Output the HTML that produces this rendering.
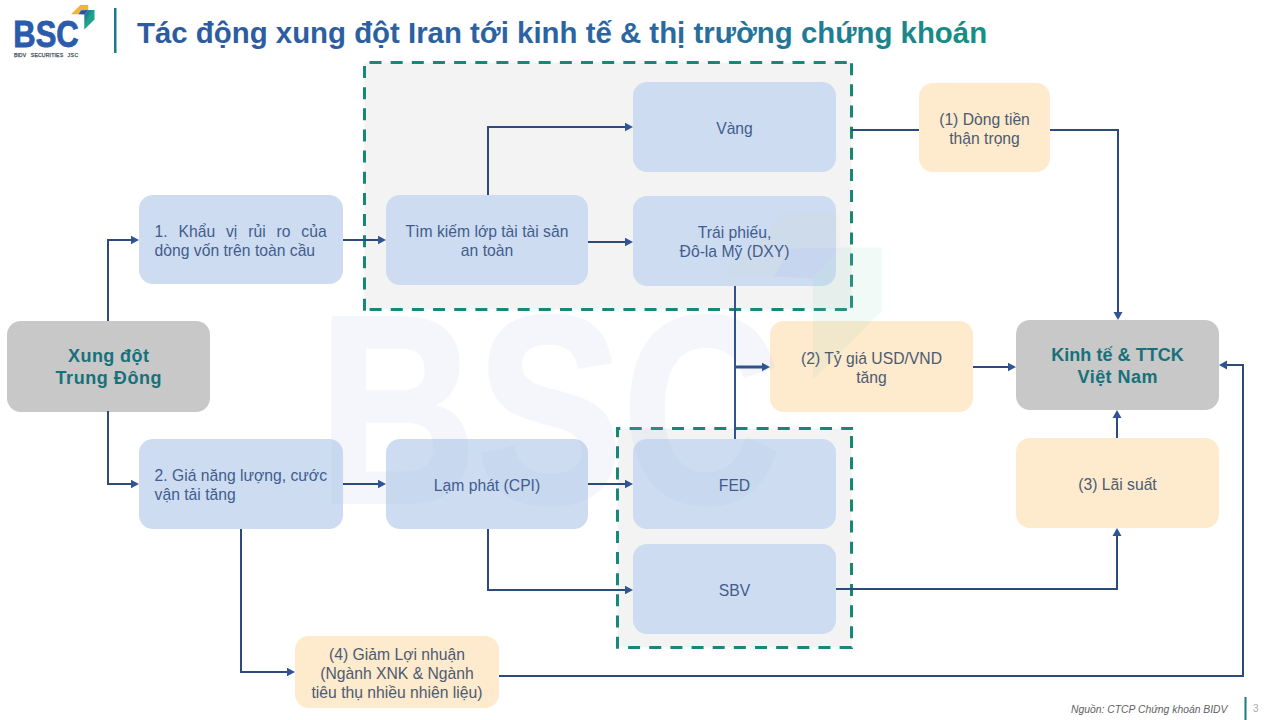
<!DOCTYPE html>
<html><head><meta charset="utf-8"><style>
html,body{margin:0;padding:0;background:#fff;}
body{width:1280px;height:720px;overflow:hidden;position:relative;font-family:"Liberation Sans",sans-serif;}
svg{position:absolute;left:0;top:0;}
</style></head><body>
<svg width="1280" height="720" viewBox="0 0 1280 720" font-family="Liberation Sans, sans-serif">
<defs>
<linearGradient id="tg" x1="137" y1="0" x2="985" y2="0" gradientUnits="userSpaceOnUse">
<stop offset="0" stop-color="#2d5aa0"/><stop offset="0.6" stop-color="#2b66a0"/><stop offset="0.8" stop-color="#227a94"/><stop offset="1" stop-color="#169080"/>
</linearGradient>
<linearGradient id="lg" x1="0" y1="0" x2="1" y2="1">
<stop offset="0" stop-color="#2c4f9e"/><stop offset="0.45" stop-color="#1ca487"/><stop offset="1" stop-color="#1aa88a"/>
</linearGradient>
</defs>
<!-- logo -->
<text x="13.3" y="47.2" font-size="37.4" font-weight="bold" fill="#2b5bab" stroke="#2b5bab" stroke-width="0.9" textLength="65.4" lengthAdjust="spacingAndGlyphs">BSC</text>
<g font-size="5.2" fill="#46505c" stroke="#46505c" stroke-width="0.25"><text x="13.9" y="56.8" textLength="12.2" lengthAdjust="spacing">BIDV</text><text x="30.8" y="56.8" textLength="32.3" lengthAdjust="spacing">SECURITIES</text><text x="67.4" y="56.8" textLength="10.8" lengthAdjust="spacing">JSC</text></g>
<polygon points="71,14.3 80.4,4.9 88.2,4.9 88.2,9.9 81,10.2 78.5,14.3" fill="#f2b53a"/>
<polygon points="78.5,14.3 81,10.2 88.7,10 84.3,14.6" fill="#2c4fa0"/>
<polygon points="84.3,14.6 88.7,10 94.5,10 94.5,19.4 84.3,29.6" fill="url(#lg)"/>
<rect x="114" y="8" width="2.5" height="45" fill="#1b7a84"/>
<text x="137" y="43" font-size="29.4" font-weight="bold" fill="url(#tg)">Tác động xung đột Iran tới kinh tế &amp; thị trường chứng khoán</text>
<rect x="364.5" y="62.5" width="487" height="247" fill="#f3f3f3"/><rect x="617.5" y="428.5" width="234" height="219" fill="#f3f3f3"/><path d="M369.5,62.5 L853,62.5" stroke="#17877a" stroke-width="3" stroke-dasharray="12 9.15" fill="none"/><path d="M369.6,309.5 L853,309.5" stroke="#17877a" stroke-width="3" stroke-dasharray="12 9.15" fill="none"/><path d="M364.5,66 L364.5,311" stroke="#17877a" stroke-width="3" stroke-dasharray="12 9.15" fill="none"/><path d="M851.5,63.2 L851.5,311" stroke="#17877a" stroke-width="3" stroke-dasharray="12 9.15" fill="none"/><path d="M629.7,428.5 L853,428.5" stroke="#17877a" stroke-width="3" stroke-dasharray="12 9.15" fill="none"/><path d="M628.1,647.5 L853,647.5" stroke="#17877a" stroke-width="3" stroke-dasharray="12 9.15" fill="none"/><path d="M617.5,427 L617.5,437.2" stroke="#17877a" stroke-width="3" fill="none"/><path d="M616,428.5 L620.3,428.5" stroke="#17877a" stroke-width="3" fill="none"/><path d="M617.5,446.3 L617.5,649" stroke="#17877a" stroke-width="3" stroke-dasharray="12 9.15" fill="none"/><path d="M851.5,436 L851.5,649" stroke="#17877a" stroke-width="3" stroke-dasharray="12 9.15" fill="none"/><rect x="7" y="321" width="203" height="91" rx="14" ry="14" fill="#c8c8c8"/><rect x="139" y="195" width="204" height="89" rx="14" ry="14" fill="#cddcf1"/><rect x="139" y="439" width="204" height="90" rx="14" ry="14" fill="#cddcf1"/><rect x="386" y="195" width="202" height="90" rx="14" ry="14" fill="#cddcf1"/><rect x="633" y="82" width="203" height="90" rx="14" ry="14" fill="#cddcf1"/><rect x="633" y="196" width="203" height="90" rx="14" ry="14" fill="#cddcf1"/><rect x="386" y="439" width="202" height="90" rx="14" ry="14" fill="#cddcf1"/><rect x="633" y="439" width="203" height="90" rx="14" ry="14" fill="#cddcf1"/><rect x="633" y="544" width="203" height="90" rx="14" ry="14" fill="#cddcf1"/><rect x="919" y="83" width="131" height="89" rx="14" ry="14" fill="#feeacc"/><rect x="770" y="321" width="203" height="91" rx="14" ry="14" fill="#feeacc"/><rect x="1016" y="320" width="203" height="90" rx="14" ry="14" fill="#c8c8c8"/><rect x="1016" y="438" width="203" height="90" rx="14" ry="14" fill="#feeacc"/><rect x="295" y="636" width="204" height="72" rx="14" ry="14" fill="#feeacc"/><g>
<g opacity="0.12"><text x="318.5" y="502" font-size="267" font-weight="bold" fill="rgb(170,190,230)" stroke="rgb(170,190,230)" stroke-width="4" stroke-linejoin="round" textLength="462" lengthAdjust="spacingAndGlyphs">BSC</text></g>
<polygon points="723.1,276.5 786.6,213.1 839.2,213.1 839.2,246.8 790.6,248.8 773.8,276.5" fill="rgb(230,210,160)" fill-opacity="0.07"/>
<polygon points="773.8,276.5 790.6,248.8 842.6,247.5 812.9,278.6" fill="rgb(150,170,220)" fill-opacity="0.1"/>
<polygon points="812.9,278.6 842.6,247.5 881.8,247.5 881.8,310.9 812.9,379.8" fill="rgb(150,210,190)" fill-opacity="0.12"/>
</g><path d="M108,321 L108,240 L133,240" fill="none" stroke="#2c4b78" stroke-width="2"/><polygon points="139,240 131,235.7 131,244.3" fill="#2f5597"/><path d="M108,411 L108,484 L133,484" fill="none" stroke="#2c4b78" stroke-width="2"/><polygon points="139,484 131,479.7 131,488.3" fill="#2f5597"/><path d="M343,240 L380,240" fill="none" stroke="#2c4b78" stroke-width="2"/><polygon points="386,240 378,235.7 378,244.3" fill="#2f5597"/><path d="M488,195 L488,127 L627,127" fill="none" stroke="#2c4b78" stroke-width="2"/><polygon points="633,127 625,122.7 625,131.3" fill="#2f5597"/><path d="M588,242 L627,242" fill="none" stroke="#2c4b78" stroke-width="2"/><polygon points="633,242 625,237.7 625,246.3" fill="#2f5597"/><path d="M851,130 L919,130" fill="none" stroke="#2c4b78" stroke-width="2"/><path d="M1050,130 L1118,130 L1118,314" fill="none" stroke="#2c4b78" stroke-width="2"/><polygon points="1118,320 1113.5,312 1122.5,312" fill="#2f5597"/><path d="M973,367 L1010,367" fill="none" stroke="#2c4b78" stroke-width="2"/><polygon points="1016,367 1008,362.7 1008,371.3" fill="#2f5597"/><path d="M343,484 L380,484" fill="none" stroke="#2c4b78" stroke-width="2"/><polygon points="386,484 378,479.7 378,488.3" fill="#2f5597"/><path d="M588,484 L627,484" fill="none" stroke="#2c4b78" stroke-width="2"/><polygon points="633,484 625,479.7 625,488.3" fill="#2f5597"/><path d="M488,529 L488,590 L627,590" fill="none" stroke="#2c4b78" stroke-width="2"/><polygon points="633,590 625,585.7 625,594.3" fill="#2f5597"/><path d="M241,529 L241,672 L289,672" fill="none" stroke="#2c4b78" stroke-width="2"/><polygon points="295,672 287,667.7 287,676.3" fill="#2f5597"/><path d="M836,589 L1117,589 L1117,534" fill="none" stroke="#2c4b78" stroke-width="2"/><polygon points="1117,528 1112.5,536 1121.5,536" fill="#2f5597"/><path d="M1117,438 L1117,416" fill="none" stroke="#2c4b78" stroke-width="2"/><polygon points="1117,410 1112.5,418 1121.5,418" fill="#2f5597"/><path d="M499,676 L1243,676 L1243,365 L1225,365" fill="none" stroke="#2c4b78" stroke-width="2"/><polygon points="1219,365 1227,360.5 1227,369.5" fill="#2f5597"/><path d="M735,286 L735,439" fill="none" stroke="#2f5290" stroke-width="2"/><path d="M735,367 L764,367" fill="none" stroke="#2f5290" stroke-width="3"/><polygon points="770,367 762,362.7 762,371.3" fill="#2f5597"/>
<text x="108.5" y="362.0" font-size="18" fill="#17717a" font-weight="bold" text-anchor="middle" textLength="80.8" lengthAdjust="spacing">Xung đột</text><text x="108.5" y="384.0" font-size="18" fill="#17717a" font-weight="bold" text-anchor="middle" textLength="106" lengthAdjust="spacing">Trung Đông</text><text x="154.6" y="236.8" font-size="15.7" fill="#425d8d" font-weight="normal" style="word-spacing:6.5px">1. Khẩu vị rủi ro của</text><text x="154.6" y="255.8" font-size="15.7" fill="#425d8d" font-weight="normal">dòng vốn trên toàn cầu</text><text x="154.6" y="481.3" font-size="15.7" fill="#425d8d" font-weight="normal" style="word-spacing:0px">2. Giá năng lượng, cước</text><text x="154.6" y="500.3" font-size="15.7" fill="#425d8d" font-weight="normal">vận tải tăng</text><text x="487.0" y="237.3" font-size="15.7" fill="#425d8d" font-weight="normal" text-anchor="middle">Tìm kiếm lớp tài tài sản</text><text x="487.0" y="256.3" font-size="15.7" fill="#425d8d" font-weight="normal" text-anchor="middle">an toàn</text><text x="734.5" y="133.8" font-size="15.7" fill="#425d8d" font-weight="normal" text-anchor="middle">Vàng</text><text x="734.5" y="238.3" font-size="15.7" fill="#425d8d" font-weight="normal" text-anchor="middle">Trái phiếu,</text><text x="734.5" y="257.3" font-size="15.7" fill="#425d8d" font-weight="normal" text-anchor="middle">Đô-la Mỹ (DXY)</text><text x="487.0" y="490.8" font-size="15.7" fill="#425d8d" font-weight="normal" text-anchor="middle">Lạm phát (CPI)</text><text x="734.5" y="490.8" font-size="15.7" fill="#425d8d" font-weight="normal" text-anchor="middle">FED</text><text x="734.5" y="595.8" font-size="15.7" fill="#425d8d" font-weight="normal" text-anchor="middle">SBV</text><text x="984.5" y="124.8" font-size="15.7" fill="#4b5b73" font-weight="normal" text-anchor="middle">(1) Dòng tiền</text><text x="984.5" y="143.8" font-size="15.7" fill="#4b5b73" font-weight="normal" text-anchor="middle">thận trọng</text><text x="871.5" y="363.8" font-size="15.7" fill="#4b5b73" font-weight="normal" text-anchor="middle">(2) Tỷ giá USD/VND</text><text x="871.5" y="382.8" font-size="15.7" fill="#4b5b73" font-weight="normal" text-anchor="middle">tăng</text><text x="1117.5" y="360.5" font-size="18" fill="#17717a" font-weight="bold" text-anchor="middle" textLength="132.5" lengthAdjust="spacing">Kinh tế &amp; TTCK</text><text x="1117.5" y="382.5" font-size="18" fill="#17717a" font-weight="bold" text-anchor="middle" textLength="80" lengthAdjust="spacing">Việt Nam</text><text x="1117.5" y="489.8" font-size="15.7" fill="#4b5b73" font-weight="normal" text-anchor="middle">(3) Lãi suất</text><text x="397.0" y="659.8" font-size="15.7" fill="#4b5b73" font-weight="normal" text-anchor="middle">(4) Giảm Lợi nhuận</text><text x="397.0" y="678.8" font-size="15.7" fill="#4b5b73" font-weight="normal" text-anchor="middle">(Ngành XNK &amp; Ngành</text><text x="397.0" y="697.8" font-size="15.7" fill="#4b5b73" font-weight="normal" text-anchor="middle">tiêu thụ nhiều nhiên liệu)</text>
<text x="1071" y="712.8" font-size="10.3" font-style="italic" fill="#5f5f5f" textLength="156.5" lengthAdjust="spacingAndGlyphs">Nguồn: CTCP Chứng khoán BIDV</text>
<rect x="1244.5" y="697" width="2" height="23" fill="#1b7a84"/>
<text x="1253" y="712" font-size="10" fill="#aaa">3</text>
</svg>
</body></html>
